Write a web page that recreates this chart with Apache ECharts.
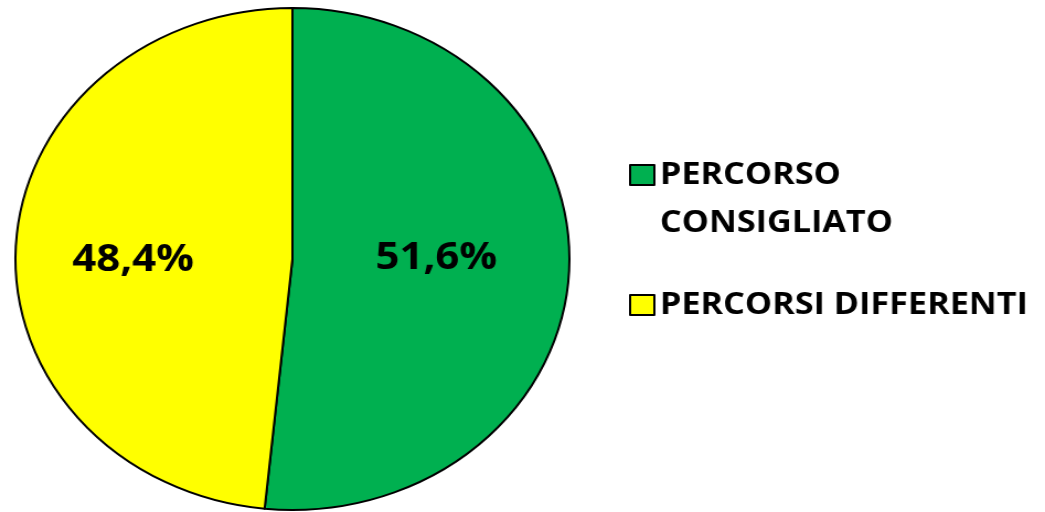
<!DOCTYPE html>
<html>
<head>
<meta charset="utf-8">
<script src="https://cdn.jsdelivr.net/npm/echarts@6/dist/echarts.min.js"></script>
<style>
  html, body { margin: 0; padding: 0; background: #fff; overflow: hidden; }
  /* the source picture is stretched sideways, so the whole chart is too */
  #chart { width: 947px; height: 512px; transform: scaleX(1.1035); transform-origin: 0 0; }
</style>
</head>
<body>
<div id="chart"></div>
<script>
const categories = ['PERCORSO CONSIGLIATO', 'PERCORSI DIFFERENTI'];
const values = [51.6, 48.4];
const colors = ['#00B050', '#FFFF00'];

const chart = echarts.init(document.getElementById('chart'));

const pieData = categories.map((name, i) => ({
  name,
  value: values[i],
  itemStyle: { color: colors[i] },
  label: { offset: i === 0 ? [2, -7] : [-16, 8] }
}));

chart.setOption({
  animation: false,
  legend: {
    orient: 'vertical',
    left: 565,
    top: 98,
    icon: 'rect',
    itemWidth: 22,
    itemHeight: 20,
    itemGap: 34,
    // blank line above keeps the box level with the first line of text
    formatter: (name) => name === categories[0] ? ' \nPERCORSO\nCONSIGLIATO' : name,
    textStyle: {
      fontFamily: 'Open Sans',
      fontWeight: 'bold',
      fontSize: 31,
      lineHeight: 48,
      color: '#000'
    },
    data: categories
  },
  series: [{
    type: 'pie',
    center: [265, 259],
    radius: 251,
    startAngle: 90,
    clockwise: true,
    avoidLabelOverlap: false,
    itemStyle: { borderColor: '#000', borderWidth: 2 },
    label: {
      show: true,
      position: 'inside',
      formatter: (p) => p.value.toFixed(1).replace('.', ',') + '%',
      fontFamily: 'Open Sans',
      fontWeight: 'bold',
      fontSize: 38,
      color: '#000'
    },
    labelLine: { show: false },
    emphasis: { disabled: true },
    data: pieData
  }]
});
</script>
</body>
</html>
